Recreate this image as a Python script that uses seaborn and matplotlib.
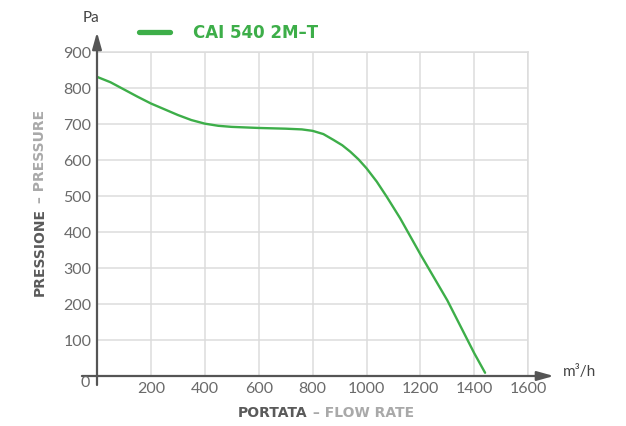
import matplotlib
matplotlib.use("Agg")
import matplotlib.pyplot as plt
import seaborn as sns
import pandas as pd

# ---- data ----
flow = [0, 50, 100, 150, 200, 250, 300, 350, 400, 450, 500, 600, 700, 760,
        800, 840, 877, 910, 940, 970, 1000, 1038, 1075, 1125, 1200, 1300,
        1400, 1440]
pressure = [831, 816, 796, 776, 757, 741, 725, 711, 701, 695, 692, 689, 687,
            685, 681, 672, 656, 641, 623, 602, 577, 540, 498, 438, 338, 210,
            63, 9]
series_name = "CAI 540 2M\u2013T"
x_ticks = [200, 400, 600, 800, 1000, 1200, 1400, 1600]
y_ticks = [100, 200, 300, 400, 500, 600, 700, 800, 900]

df = pd.DataFrame({"flow": flow, "pressure": pressure, "series": series_name})

sns.set_style("white")
plt.rcParams["font.family"] = ["Lato", "DejaVu Sans"]

GREEN = "#3dae49"
AXIS = "#555555"
TICK = "#6a6a6a"
GRID = "#dcdcdc"

W, H = 626, 426
fig = plt.figure(figsize=(W / 100, H / 100), dpi=100)
ax = fig.add_axes([97 / W, (H - 376) / H, (528.2 - 97) / W, (376 - 52) / H])

ax.set_xlim(0, 1600)
ax.set_ylim(0, 900)
ax.set_xticks(x_ticks)
ax.set_yticks(y_ticks)
ax.grid(True, color=GRID, lw=1.1)
ax.set_axisbelow(True)
for s in ["left", "bottom"]:
    ax.spines[s].set_visible(False)
for s in ["top", "right"]:
    ax.spines[s].set_visible(True)
    ax.spines[s].set_color(GRID)
    ax.spines[s].set_linewidth(1.1)
ax.tick_params(length=0, labelsize=11.5, labelcolor=TICK, pad=4)

sns.lineplot(data=df, x="flow", y="pressure", hue="series", palette=[GREEN],
             lw=1.7, ax=ax, legend=True)
ax.set_xlabel("")
ax.set_ylabel("")

# axis arrows
arrow = dict(arrowstyle="-|>,head_length=1.0,head_width=0.28", color=AXIS,
             lw=1.6, mutation_scale=10, shrinkA=0, shrinkB=0)
ax.annotate("", xy=(0, 955), xytext=(0, -25), arrowprops=arrow,
            annotation_clip=False)
ax.annotate("", xy=(1695, 0), xytext=(-56, 0), arrowprops=arrow,
            annotation_clip=False)

ax.text(-45, -19, "0", ha="center", va="center", fontsize=11.5, color=TICK,
        clip_on=False)
fig.text(91 / W, 1 - 18 / H, "Pa", ha="center", va="center", fontsize=11,
         color="#444444")
fig.text(580 / W, 1 - 372 / H, "m\u00b3/h", ha="center", va="center",
         fontsize=11, color="#444444")

# legend
h, l = ax.get_legend_handles_labels()
for hh in h:
    hh.set_linewidth(3.8)
leg = fig.legend(h, l, loc="center left", bbox_to_anchor=(139 / W, 1 - 33 / H),
                 frameon=False, borderpad=0, borderaxespad=0, handlelength=1.85,
                 handletextpad=1.4,
                 prop=dict(family=["DejaVu Sans"], weight="bold", size=12),
                 labelcolor=GREEN)
if ax.get_legend():
    ax.get_legend().remove()

# axis titles (two-tone)
DARK = "#5a5a5a"
LIGHT = "#a9a9a9"
tfont = dict(family=["DejaVu Sans"], weight="bold", size=10)
t1 = fig.text(40 / W, 1 - 296 / H, "PRESSIONE", rotation=90, ha="center",
              va="bottom", color=DARK, **tfont)
fig.canvas.draw()
ax.annotate(" \u2013 PRESSURE", xy=(0.5, 1), xycoords=t1, rotation=90,
            ha="center", va="bottom", color=LIGHT, **tfont)
t2 = fig.text(238 / W, 1 - 413 / H, "PORTATA", ha="left", va="center",
              color=DARK, **tfont)
ax.annotate(" \u2013 FLOW RATE", xy=(1, 0.5), xycoords=t2, ha="left",
            va="center", color=LIGHT, **tfont)

fig.savefig("out.png", dpi=100)
